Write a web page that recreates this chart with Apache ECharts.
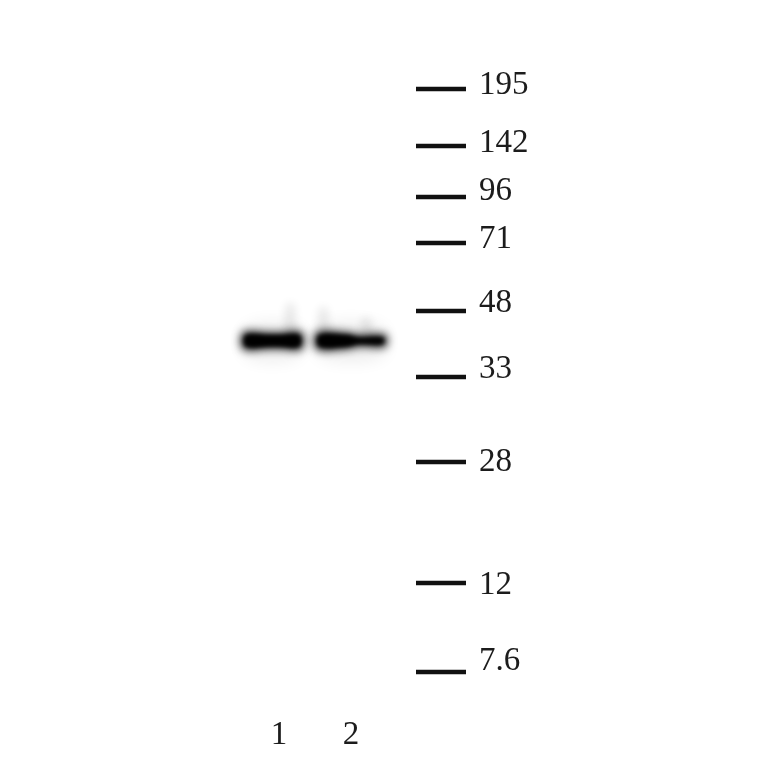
<!DOCTYPE html>
<html>
<head>
<meta charset="utf-8">
<script src="https://cdn.jsdelivr.net/npm/echarts@6/dist/echarts.min.js"></script>
<style>
    html, body { margin: 0; padding: 0; background: #fff; }
    #blot { width: 764px; height: 764px; }
</style>
</head>
<body>
<div id="blot"></div>
<script>
// lanes and the bands seen in them (distance = % of gel length from top)
var laneLabels = ['1', '2'];
var bandDistance = [45.0, 45.0];
var bandLeftIntensity = [1.0, 1.0];
var bandRightIntensity = [1.0, 0.62];

// molecular weight ladder (kDa) and migration distance
var markerLabels = ['195', '142', '96', '71', '48', '33', '28', '12', '7.6'];
var markerDistance = [4.65, 13.78, 21.96, 29.33, 40.22, 50.80, 64.42, 83.81, 98.08];

var FONT = '"Liberation Serif", "DejaVu Serif", serif';
var TEXT_COLOR = '#1c1c1c';

var blot = echarts.init(document.getElementById('blot'));

// label nudges so each number sits where it does in the photo
var labelNudge = [-4, -2.5, -6, -4, -8, -8, 0, 2, -11];
// band width as a share of the lane, and sideways shift in px
var bandSpread = [0.82, 0.96];
var bandShift = [-6.5, 0];
// faint streaks above each band: [share of band width from left, length px]
var bandStreaks = [[[0.8, 36]], [[0.1, 32], [0.72, 22]]];

// draw a shape far off the canvas and let only its shadow land in place,
// so what shows is a real blur of it
var OFF = 3000;
var blurred = function (type, pts, color, blur) {
    var moved = pts.map(function (p) { return [p[0], p[1] - OFF]; });
    return {
        type: type,
        shape: { points: moved, smooth: 0.35 },
        style: { fill: '#000', shadowBlur: blur, shadowColor: color, shadowOffsetX: 0, shadowOffsetY: OFF }
    };
};

var bandShape = function (x0, w, y, tl, tr) {
    var x1 = x0 + w;
    return [
        [x0, y - tl / 2], [x0 + w * 0.45, y - tl / 2], [x0 + w * 0.62, y - tr / 2], [x1, y - tr / 2],
        [x1, y + tr / 2], [x0 + w * 0.62, y + tr / 2], [x0 + w * 0.45, y + tl / 2], [x0, y + tl / 2]
    ];
};

var boxShape = function (x, y, w, h) {
    return [[x, y], [x + w, y], [x + w, y + h], [x, y + h]];
};

var renderBand = function (params, api) {
    var i = params.dataIndex;
    var c = api.coord([api.value(0), api.value(1)]);
    var lane = api.size([1, 0])[0];
    var w = lane * bandSpread[i];
    var x0 = c[0] + bandShift[i] - w / 2;
    var y = c[1];
    var tl = 13 * api.value(2);
    var tr = 13 * api.value(3);
    var children = [];

    // haze around the band
    children.push(blurred('polygon', boxShape(x0 + 4, y - 14, w - 8, 30), 'rgba(0,0,0,0.07)', 16));
    bandStreaks[i].forEach(function (s) {
        children.push(blurred('polygon', boxShape(x0 + w * s[0] - 4, y - s[1], 8, s[1]), 'rgba(0,0,0,0.09)', 8));
    });
    children.push(blurred('polygon', bandShape(x0, w, y, tl + 4, tr + 4), 'rgba(0,0,0,0.85)', 9));
    children.push(blurred('polygon', bandShape(x0 + 3, w - 6, y, tl - 2, tr - 2), 'rgba(0,0,0,1)', 4));
    return { type: 'group', children: children };
};

var bandData = [];
for (var i = 0; i < laneLabels.length; i++) {
    bandData.push([i, bandDistance[i], bandLeftIntensity[i], bandRightIntensity[i]]);
}

var markerData = [];
for (var j = 0; j < markerLabels.length; j++) {
    markerData.push({
        value: [0.5, markerDistance[j]],
        name: markerLabels[j],
        label: { offset: [0, labelNudge[j]] }
    });
}

var option = {
    backgroundColor: '#ffffff',
    animation: false,
    grid: [
        { left: 243, right: 377, top: 60, bottom: 80 },
        { left: 416, right: 298, top: 60, bottom: 80 }
    ],
    xAxis: [
        {
            gridIndex: 0,
            type: 'category',
            data: laneLabels,
            boundaryGap: true,
            axisLine: { show: false },
            axisTick: { show: false },
            splitLine: { show: false },
            axisLabel: {
                margin: 35,
                fontFamily: FONT,
                fontSize: 33,
                color: TEXT_COLOR
            }
        },
        {
            gridIndex: 1,
            type: 'value',
            min: 0,
            max: 1,
            show: false
        }
    ],
    yAxis: [
        { gridIndex: 0, type: 'value', min: 0, max: 100, inverse: true, show: false },
        { gridIndex: 1, type: 'value', min: 0, max: 100, inverse: true, show: false }
    ],
    series: [
        {
            name: 'bands',
            type: 'custom',
            xAxisIndex: 0,
            yAxisIndex: 0,
            renderItem: renderBand,
            data: bandData,
            clip: false,
            silent: true
        },
        {
            name: 'ladder',
            type: 'scatter',
            xAxisIndex: 1,
            yAxisIndex: 1,
            symbol: 'rect',
            symbolSize: [50, 4.5],
            itemStyle: { color: '#111111', opacity: 1 },
            label: {
                show: true,
                position: 'right',
                distance: 13,
                formatter: '{b}',
                fontFamily: FONT,
                fontSize: 33,
                color: TEXT_COLOR
            },
            data: markerData,
            silent: true
        }
    ]
};

blot.setOption(option);
</script>
</body>
</html>
